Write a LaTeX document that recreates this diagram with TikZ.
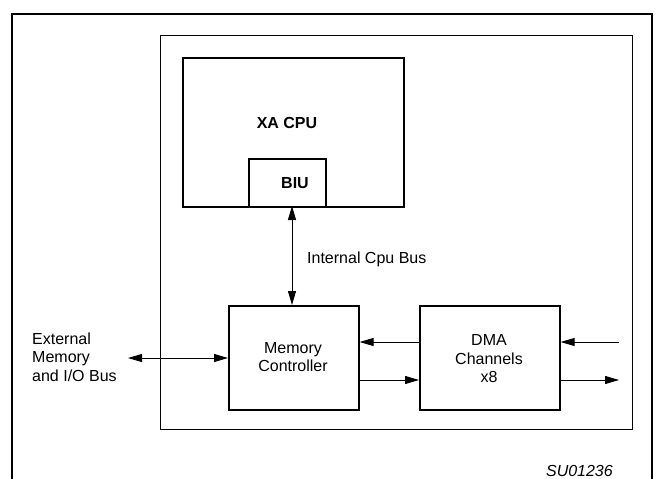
\documentclass[tikz,border=0pt]{standalone}
\usepackage{fontspec}
\setmainfont{Liberation Sans}
\usetikzlibrary{arrows.meta}
\begin{document}
\begin{tikzpicture}[x=1pt,y=-1pt,
  box/.style={draw, line width=1.6pt, inner sep=0pt, anchor=north west},
  txt/.style={font=\fontsize{16}{18.5}\selectfont, align=center, inner sep=0pt},
  btxt/.style={font=\bfseries\fontsize{16}{18.5}\selectfont, inner sep=0pt},
  arr/.style={line width=0.9pt, -{Triangle[length=14pt,width=8pt]}},
  darr/.style={line width=0.9pt, {Triangle[length=14pt,width=8pt]}-{Triangle[length=14pt,width=8pt]}}]
\useasboundingbox (0,0) rectangle (656,479);
% outer frame (open at bottom)
\coordinate (obl) at (12,479);
\coordinate (otl) at (12,14);
\coordinate (otr) at (652,14);
\coordinate (obr) at (652,479);
\draw[line width=2.2pt] (obl) -- (otl) -- (otr) -- (obr);
% system box
\node[draw, line width=0.8pt, inner sep=0pt, anchor=north west, minimum width=472pt, minimum height=394pt] (sys) at (160,35) {};
% CPU
\node[box, minimum width=221pt, minimum height=149pt] (cpu) at (182,57) {};
\node[btxt] (cputxt) at (287,123) {XA CPU};
\node[box, minimum width=77pt, minimum height=48pt] (biu) at (248,158) {};
\node[btxt] (biutxt) at (295,183) {BIU};
% memory controller and DMA
\node[box, minimum width=130pt, minimum height=104pt] (mc) at (228,305) {};
\node[txt] (mctxt) at (293,357) {Memory\\Controller};
\node[box, minimum width=140pt, minimum height=104pt] (dma) at (419,305) {};
\node[txt] (dmatxt) at (489,359) {DMA\\Channels\\x8};
% internal bus
\coordinate (ibtop) at (292,206);
\coordinate (ibbot) at (292,305);
\draw[darr] (ibtop) -- (ibbot);
\node[txt, anchor=west] (ibl) at (307,259) {Internal Cpu Bus};
% external bus
\coordinate (ext) at (128,358);
\draw[darr] (ext) -- (mc.west |- ext);
\node[txt, align=left, anchor=west] (extl) at (32,357) {External\\Memory\\and I/O Bus};
% DMA <-> MC
\coordinate (up) at (0,342);
\coordinate (lo) at (0,380);
\draw[arr] (dma.west |- up) -- (mc.east |- up);
\draw[arr] (mc.east |- lo) -- (dma.west |- lo);
% DMA external
\coordinate (rin) at (619,342);
\coordinate (rout) at (619,380);
\draw[arr] (rin) -- (dma.east |- rin);
\draw[arr] (dma.east |- rout) -- (rout);
% label
\node[txt, anchor=east, font=\itshape\fontsize{16}{18}\selectfont] (su) at (613,471) {SU01236};
\end{tikzpicture}
\end{document}
